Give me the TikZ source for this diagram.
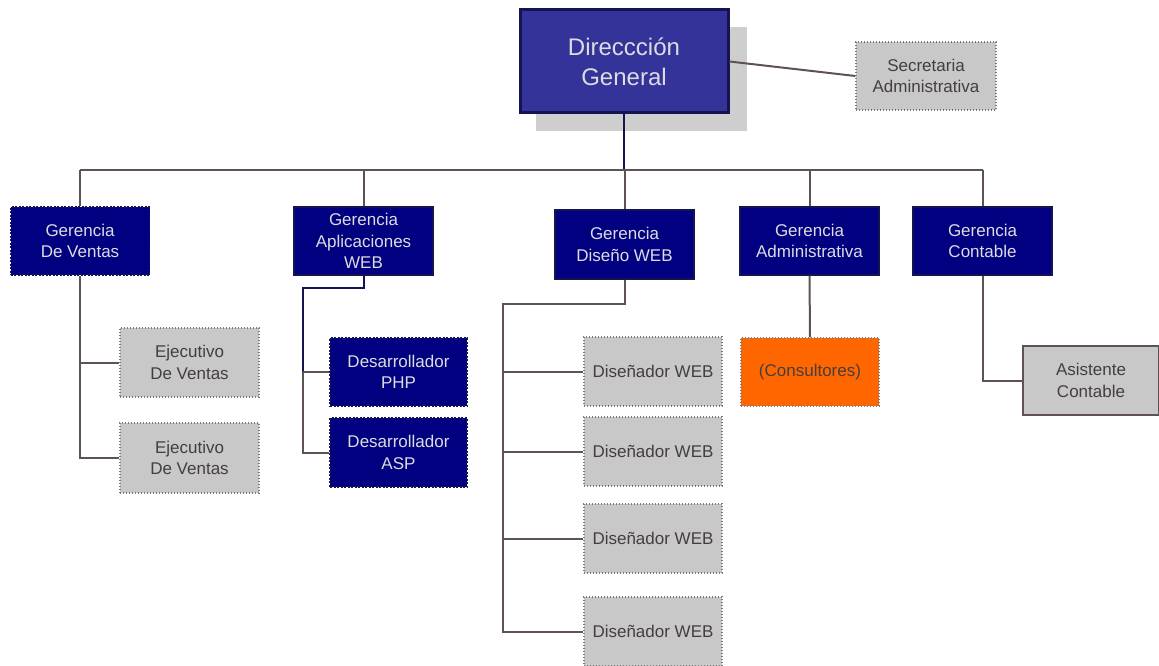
\documentclass[tikz,border=0pt]{standalone}
\usepackage{fontspec}
\setmainfont{Liberation Sans}
\definecolor{navy}{RGB}{0,0,128}
\definecolor{navyedge}{RGB}{20,20,80}
\definecolor{dirblue}{RGB}{51,51,153}
\definecolor{boxgray}{RGB}{200,200,200}
\definecolor{shadowgray}{RGB}{206,206,206}
\definecolor{wire}{RGB}{95,82,82}
\definecolor{lighttext}{RGB}{220,220,225}
\definecolor{darktext}{RGB}{70,62,62}
\definecolor{orangebox}{RGB}{255,102,0}
\begin{document}
\begin{tikzpicture}[x=1pt,y=-1pt,
  base/.style={rectangle,align=center,inner sep=0pt,font=\fontsize{17}{21.5}\selectfont},
  navybox/.style={base,fill=navy,draw=navyedge,line width=1.4pt,text=lighttext,minimum width=139pt,minimum height=68pt},
  navydash/.style={navybox,dash pattern=on 2pt off 1.5pt},
  graybox/.style={base,fill=boxgray,draw=darktext!70,line width=1.3pt,dash pattern=on 1.2pt off 1.8pt,text=darktext,minimum width=139pt,minimum height=69pt},
  wireline/.style={draw=wire,line width=2pt},
  navyline/.style={draw=navyedge,line width=2pt}]
\useasboundingbox (0,0) rectangle (1159,666);
\begin{scope}
\clip (0,0) rectangle (1159,666);

% head of the organisation, with its drop shadow
\fill[shadowgray] (536,27) rectangle (747,131);
\node[base,fill=dirblue,draw=navyedge,line width=3pt,text=lighttext,
      minimum width=208pt,minimum height=103pt,font=\fontsize{24}{30}\selectfont]
      (dg) at (624,61.5) {Direccción\\General};
\node[graybox,minimum width=140pt,minimum height=68pt] (sec) at (926,76) {Secretaria\\Administrativa};

% management level
\node[navydash] (gv)   at (80,241)    {Gerencia\\De Ventas};
\node[navybox]  (ga)   at (363.5,241) {Gerencia\\Aplicaciones\\WEB};
\node[navybox,minimum height=69pt] (gd) at (624.5,244.5) {Gerencia\\Diseño WEB};
\node[navybox]  (gadm) at (809.5,241) {Gerencia\\Administrativa};
\node[navybox]  (gc)   at (982.5,241) {Gerencia\\Contable};

% staff
\node[graybox] (ev1) at (189.5,362.5) {Ejecutivo\\De Ventas};
\node[graybox,minimum height=70pt] (ev2) at (189.5,458) {Ejecutivo\\De Ventas};
\node[navydash,minimum width=137pt] (php) at (398.5,372) {Desarrollador\\PHP};
\node[navydash,minimum width=137pt,minimum height=69pt] (asp) at (398.5,452.5) {Desarrollador\\ASP};
\node[graybox,minimum width=138pt] (dw1) at (653,371.5) {Diseñador WEB};
\node[graybox,minimum width=138pt] (dw2) at (653,451.5) {Diseñador WEB};
\node[graybox,minimum width=138pt] (dw3) at (653,538.5) {Diseñador WEB};
\node[graybox,minimum width=138pt] (dw4) at (653,631.5) {Diseñador WEB};
\node[graybox,fill=orangebox,minimum width=138pt,minimum height=68pt] (cons) at (810,372) {(Consultores)};
\node[base,fill=boxgray,draw=wire,line width=1.8pt,text=darktext,
      minimum width=136pt,minimum height=69pt] (ac) at (1091,380.5) {Asistente\\Contable};

% connectors
\coordinate (bus) at (0,170);
\coordinate (ta) at (303,288);
\coordinate (td) at (503,304);

\draw[wireline] (dg.east) -- (sec.west);
\draw[navyline] (dg.south) -- (dg.south |- bus);
\draw[wireline] (gv.north |- bus) -- (gc.north |- bus);
\foreach \n in {gv,ga,gd,gadm,gc}
  \draw[wireline] (\n.north |- bus) -- (\n.north);

\draw[wireline] (gv.south) |- (ev2.west);
\draw[wireline] (gv.south |- ev1.west) -- (ev1.west);

\draw[navyline] (ga.south) |- (ta) -- (ta |- php.west);
\draw[wireline] (ta |- php.west) |- (asp.west);
\draw[wireline] (ta |- php.west) -- (php.west);

\draw[wireline] (gd.south) |- (td) |- (dw4.west);
\foreach \n in {dw1,dw2,dw3}
  \draw[wireline] (td |- \n.west) -- (\n.west);

\draw[wireline] (gadm.south) -- (cons.north);
\draw[wireline] (gc.south) |- (ac.west);
\end{scope}
\end{tikzpicture}
\end{document}
